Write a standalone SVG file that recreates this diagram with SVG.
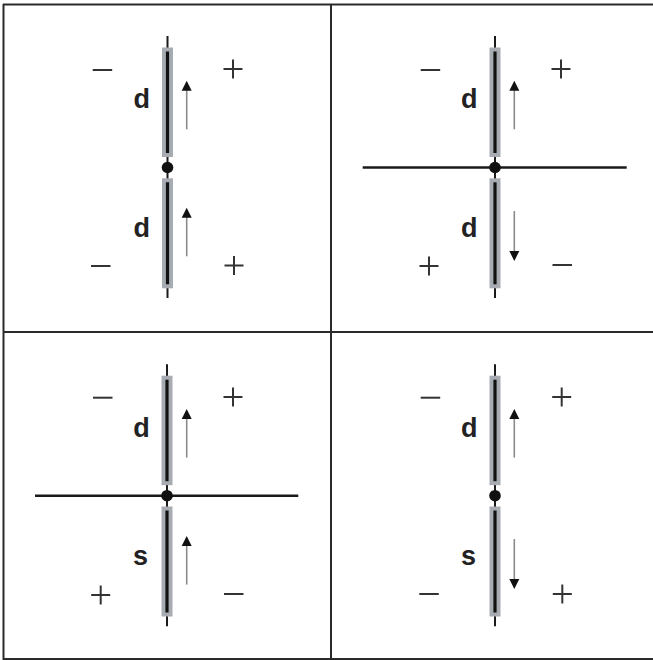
<svg xmlns="http://www.w3.org/2000/svg" width="653" height="660" viewBox="0 0 653 660">
<defs>
<style>
.frame{stroke:#2a2a2a;stroke-width:2;fill:none}
.wire{stroke:#1a1a1a;stroke-width:2}
.core{stroke:#111;stroke-width:3.2}
.sheath{fill:#a7acb2}
.axis{stroke:#1a1a1a;stroke-width:2.4}
.sym{stroke:#333;stroke-width:2;fill:none}
.shaft{stroke:#8a8a8a;stroke-width:1.6}
.head{fill:#111}
.lbl{font-family:"Liberation Sans",Arial,sans-serif;font-weight:bold;font-size:27px;fill:#222;text-anchor:middle}
</style>
<g id="dipole">
<line class="wire" x1="0" y1="-131.5" x2="0" y2="130.5"/>
<rect class="sheath" x="-5.5" y="-120" width="11" height="109.5"/>
<rect class="sheath" x="-5.5" y="10.8" width="11" height="110"/>
<line class="core" x1="0" y1="-116" x2="0" y2="-14.5"/>
<line class="core" x1="0" y1="14.8" x2="0" y2="116.8"/>
<circle cx="0" cy="0" r="5.8" fill="#111"/>
</g>
<g id="up">
<line class="shaft" x1="0" y1="48.6" x2="0" y2="8"/>
<polygon class="head" points="0,0 -5,10 5,10"/>
</g>
<g id="down">
<line class="shaft" x1="0" y1="0" x2="0" y2="41"/>
<polygon class="head" points="0,50 -5,40 5,40"/>
</g>
<g id="plus">
<line class="sym" x1="-9.5" y1="0" x2="9.5" y2="0"/>
<line class="sym" x1="0" y1="-9.5" x2="0" y2="9.5"/>
</g>
<g id="minus">
<line class="sym" x1="0" y1="0" x2="19.5" y2="0"/>
</g>
</defs>

<g id="frame">
<line class="frame" x1="3" y1="4.5" x2="653" y2="4.5"/>
<line class="frame" x1="3.5" y1="4" x2="3.5" y2="660"/>
<line class="frame" x1="3" y1="659" x2="653" y2="659"/>
<line class="frame" x1="331" y1="4" x2="331" y2="660"/>
<line class="frame" x1="3" y1="332" x2="653" y2="332"/>
</g>

<g id="connectors">
<line class="axis" x1="362.7" y1="167.5" x2="626.7" y2="167.5"/>
<line class="axis" x1="35" y1="495.7" x2="298.3" y2="495.7"/>
</g>

<g id="panel1">
<use href="#dipole" x="167.5" y="167.5"/>
<use href="#up" x="186.7" y="80.7"/>
<use href="#up" x="186.7" y="207.7"/>
<text class="lbl" x="141.7" y="108.3">d</text>
<text class="lbl" x="141.7" y="237.3">d</text>
<use href="#minus" x="92.7" y="70"/>
<use href="#plus" x="233" y="69"/>
<use href="#minus" x="91" y="266"/>
<use href="#plus" x="234" y="265.5"/>
</g>

<g id="panel2">
<use href="#dipole" x="495" y="167.5"/>
<use href="#up" x="514.3" y="80.7"/>
<use href="#down" x="514.3" y="211"/>
<text class="lbl" x="469.2" y="108.3">d</text>
<text class="lbl" x="469.2" y="237.3">d</text>
<use href="#minus" x="420.7" y="70"/>
<use href="#plus" x="561" y="69"/>
<use href="#plus" x="429" y="266"/>
<use href="#minus" x="552.5" y="265"/>
</g>

<g id="panel3">
<use href="#dipole" x="167" y="495.7"/>
<use href="#up" x="186.7" y="409"/>
<use href="#up" x="186.7" y="536"/>
<text class="lbl" x="141.5" y="437">d</text>
<text class="lbl" x="140.5" y="565">s</text>
<use href="#minus" x="93" y="397.7"/>
<use href="#plus" x="233" y="397"/>
<use href="#plus" x="100.7" y="595"/>
<use href="#minus" x="224" y="594"/>
</g>

<g id="panel4">
<use href="#dipole" x="495" y="495.7"/>
<use href="#up" x="514.3" y="409"/>
<use href="#down" x="514.3" y="539"/>
<text class="lbl" x="469.2" y="437">d</text>
<text class="lbl" x="468.5" y="565">s</text>
<use href="#minus" x="420.7" y="397.7"/>
<use href="#plus" x="561.7" y="397"/>
<use href="#minus" x="419.3" y="594"/>
<use href="#plus" x="562.3" y="594"/>
</g>
</svg>
